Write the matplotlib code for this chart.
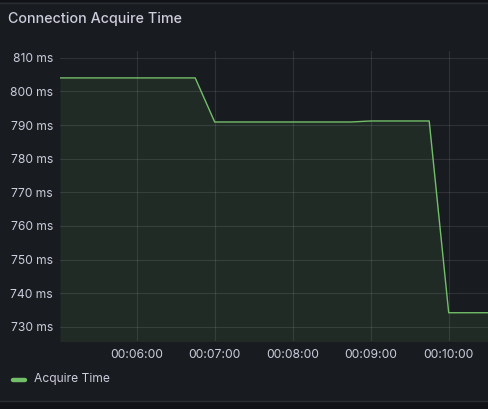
import matplotlib
matplotlib.use("Agg")
import matplotlib.pyplot as plt
from matplotlib.lines import Line2D
from matplotlib.patches import Rectangle
from matplotlib.ticker import FixedLocator, FuncFormatter

# time in seconds since 00:00:00, value in ms
times = [301, 405, 420, 525, 540, 585, 600, 631]
acquire_ms = [804.0, 804.0, 790.9, 790.9, 791.2, 791.2, 734.2, 734.2]
x_ticks = [360, 420, 480, 540, 600]
y_ticks = [730, 740, 750, 760, 770, 780, 790, 800, 810]

BG = "#181b1f"
TEXT = "#ccccdc"
GREEN = "#73bf69"

plt.rcParams["font.family"] = ["Inter", "DejaVu Sans"]

fig = plt.figure(figsize=(4.89, 4.09), dpi=100)
fig.patch.set_facecolor(BG)

# panel borders / outer strips
fig.patches.append(Rectangle((0, 0), 1, 8 / 409, transform=fig.transFigure,
                             facecolor="#111217", edgecolor="none", zorder=0))
fig.add_artist(Line2D([0, 1], [8 / 409, 8 / 409], transform=fig.transFigure,
                      color="#2a2d33", lw=1))
fig.patches.append(Rectangle((0, 1 - 2 / 409), 1, 2 / 409, transform=fig.transFigure,
                             facecolor="#111217", edgecolor="none", zorder=0))
fig.add_artist(Line2D([0, 1], [1 - 2.5 / 409, 1 - 2.5 / 409], transform=fig.transFigure,
                      color="#2a2d33", lw=1))

ax = fig.add_axes([60 / 489, 68 / 409, 429 / 489, 290 / 409])
ax.set_facecolor(BG)

ax.fill_between(times, acquire_ms, 700, color=GREEN, alpha=0.1, lw=0)
ax.plot(times, acquire_ms, color=GREEN, lw=1)

ax.set_xlim(301, 631)
ax.set_ylim(725.8, 812.0)

ax.xaxis.set_major_locator(FixedLocator(x_ticks))
ax.yaxis.set_major_locator(FixedLocator(y_ticks))
ax.xaxis.set_major_formatter(FuncFormatter(
    lambda v, p: "%02d:%02d:%02d" % (v // 3600, (v % 3600) // 60, v % 60)))
ax.yaxis.set_major_formatter(FuncFormatter(lambda v, p: "%d ms" % v))

ax.grid(True, color="#ccccdc", alpha=0.13, lw=0.8)
ax.set_axisbelow(True)
for s in ax.spines.values():
    s.set_visible(False)
ax.tick_params(length=0, colors=TEXT, labelsize=8.7)
ax.tick_params(axis="y", pad=5)
ax.tick_params(axis="x", pad=6)

fig.text(8 / 489, 1 - 19 / 409, "Connection Acquire Time", color=TEXT,
         fontsize=10.3, fontweight="medium", va="center", ha="left")

# legend
fig.add_artist(Line2D([13 / 489, 25 / 489], [1 - 380 / 409, 1 - 380 / 409],
                      transform=fig.transFigure, color=GREEN, lw=3.2,
                      solid_capstyle="round"))
fig.text(34 / 489, 1 - 379 / 409, "Acquire Time", color=TEXT, fontsize=8.7,
         va="center", ha="left")

fig.savefig("out.png", dpi=100, facecolor=BG)
